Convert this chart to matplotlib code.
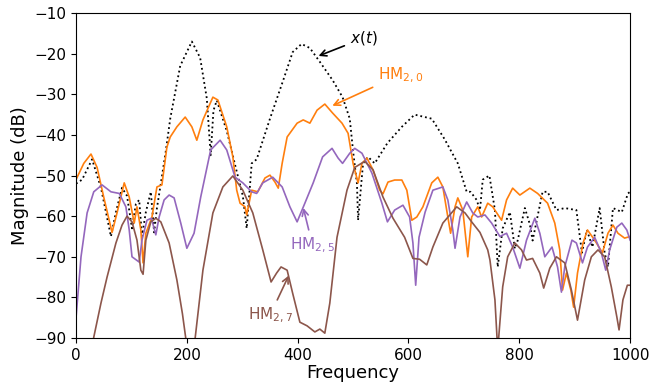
import numpy as np
import matplotlib
matplotlib.use("Agg")
import matplotlib.pyplot as plt

# x(t) spectrum (black dotted)
black_f = [0, 11, 29, 45, 54, 63, 72, 83, 92, 101, 108, 114, 119, 126, 135,
           141, 146, 153, 162, 170, 188, 209, 224, 236, 243, 248, 254, 272, 290, 301,
           308, 317, 326, 350, 374, 391, 407, 422, 440, 463, 481, 494, 500, 507, 509,
           518, 527, 539, 562, 588, 611, 642, 665, 689, 705, 712, 723, 729, 734, 746,
           756, 761, 770, 783, 792, 797, 810, 819, 824, 833, 842, 851, 867, 882, 903,
           913, 922, 932, 945, 954, 960, 969, 985, 996, 1000]
black_db = [-52, -51, -46, -53, -59, -65, -59, -53, -55, -63, -57, -56, -65, -59, -54,
            -64, -58, -52, -44, -36, -23, -17, -21, -31, -45, -34, -31.5, -39, -49, -55,
            -63, -47, -46, -36, -26.5, -19.6, -17.6, -18.6, -22, -26.5, -30.7, -36, -44, -52, -61,
            -47, -45.4, -47, -42, -38, -35, -36, -41, -47, -54, -54, -56, -58.5, -51, -50,
            -58.5, -72.5, -63, -59, -68, -66, -58, -62, -66, -60, -54, -54, -58.5, -58, -58.5,
            -69, -63.4, -67.6, -58, -69, -72.5, -58, -59, -54.4, -54]

# HM_{2,0}
orange_f = [0, 14, 27, 38, 50, 65, 74, 87, 96, 105, 110, 117, 121, 126, 137,
            146, 155, 164, 170, 182, 197, 209, 218, 229, 247, 256, 272, 283, 290, 296,
            305, 308, 317, 328, 341, 350, 359, 365, 372, 381, 399, 410, 422, 435, 449,
            463, 480, 491, 500, 509, 516, 525, 536, 548, 554, 563, 575, 588, 597, 606,
            615, 626, 642, 653, 662, 671, 676, 684, 689, 698, 707, 714, 725, 732, 743,
            752, 768, 777, 788, 801, 819, 833, 851, 864, 873, 878, 885, 893, 898, 905,
            915, 923, 936, 950, 960, 969, 978, 990, 1000]
orange_db = [-51, -47, -44.7, -48, -55.3, -64, -59.2, -51.8, -55.3, -61.7, -57.7, -63.4, -71.5, -64.2, -60.2,
             -52.8, -52.3, -43, -40.5, -38, -35.6, -38, -41.3, -36.3, -30.7, -31.4, -38, -45.4, -53.6, -56.8,
             -57.7, -59.7, -53.6, -54, -50.6, -49.9, -51.6, -53.1, -47, -40.5, -37.1, -36.3, -37.1, -33.9, -32.4,
             -34.6, -37.1, -39.6, -47, -51.8, -47, -45.7, -48.6, -53.6, -54.5, -51.6, -51.1, -51.1, -53.6, -61,
             -60.2, -57.7, -51.8, -50.4, -52.8, -60.2, -64.2, -57.7, -55.5, -58.5, -70, -60.2, -57.7, -60.2, -56.8,
             -57.7, -61, -56, -53.1, -54.8, -53.1, -54.4, -56.8, -61.7, -68.3, -78.2, -74, -78.2, -82.4, -74,
             -66.6, -63.4, -65.9, -69, -64.2, -62.2, -64.2, -65.4, -65]

# HM_{2,5}
purple_f = [0, 9, 20, 32, 47, 63, 78, 90, 96, 101, 114, 119, 128, 136, 144,
            150, 159, 168, 177, 189, 200, 213, 225, 243, 260, 272, 287, 301, 317, 326,
            337, 355, 372, 386, 399, 413, 428, 445, 462, 473, 481, 494, 503, 516, 534,
            552, 562, 575, 590, 602, 608, 613, 619, 630, 644, 662, 671, 680, 684, 693,
            705, 716, 725, 738, 750, 765, 777, 788, 801, 813, 828, 837, 846, 859, 869,
            876, 882, 895, 903, 914, 923, 936, 948, 956, 963, 976, 985, 994, 1000]
purple_db = [-85, -70, -59.2, -54, -52.3, -54, -54.4, -57.7, -63.4, -70, -71.3, -65.9, -61, -60.5, -64.6,
             -60.2, -56, -54.8, -55.5, -61.7, -67.9, -64.2, -55.3, -43.7, -41.3, -43.7, -50.4, -51.8, -54, -54.4,
             -51.8, -50.4, -52.8, -57.7, -61.4, -56.8, -51.8, -45.4, -43.3, -45.7, -47, -44.5, -43.3, -44.5, -49.4,
             -56.8, -61.4, -58.5, -57.3, -60.2, -66.6, -77, -65.2, -59, -53.6, -52.8, -56, -63.4, -67.9, -60.2,
             -56.5, -59.2, -60.2, -59.7, -61.7, -65, -64.2, -67.6, -72.8, -65.9, -60.5, -64.2, -70, -67.6, -72.5,
             -78.7, -72.5, -65.9, -66.6, -71.5, -67.6, -65.2, -69, -73.3, -68.3, -62.7, -61.7, -63.4, -65.9]

# HM_{2,7}
brown_f = [25, 32, 45, 56, 72, 83, 92, 101, 110, 117, 121, 126, 135, 144, 153,
           168, 182, 192, 198, 206, 215, 229, 247, 265, 283, 301, 319, 337, 352, 362,
           370, 381, 391, 404, 417, 431, 440, 449, 458, 471, 489, 503, 521, 536, 554,
           572, 593, 608, 620, 633, 644, 662, 687, 702, 714, 729, 743, 747, 756, 761,
           770, 779, 792, 804, 813, 824, 837, 844, 855, 867, 882, 894, 905, 918, 930,
           942, 954, 966, 976, 980, 987, 995, 1000]
brown_db = [-95, -89.8, -81.4, -75, -66.6, -62.2, -60, -61.4, -65.9, -73.3, -74.3, -65.9, -61.4, -60.5, -61.4,
            -66.6, -75.7, -84, -90, -96, -90, -73.3, -59.2, -52.8, -50.1, -53.6, -59.2, -68.3, -76.2, -74,
            -72.5, -73.3, -79, -86.1, -87, -88.5, -87.8, -88.8, -81.4, -65.2, -53.6, -48, -46.5, -48.6, -55.3,
            -60.5, -65.2, -70.4, -70.6, -72, -67.6, -61.7, -57.7, -59.2, -61.4, -64, -68.3, -70.8, -80.6, -93,
            -77.4, -70, -66.6, -68.3, -70.8, -70.4, -74, -77.7, -72.8, -70, -71.5, -78.2, -85.6, -75.7, -70,
            -68.3, -70, -77.4, -84.8, -88, -80.6, -77, -77]

fig = plt.figure(figsize=(6.64, 3.85), dpi=100)
ax = fig.add_axes([0.1145, 0.122, 0.8345, 0.844])

ax.plot(black_f, black_db, color="black", linestyle=":", lw=1.3)
ax.plot(orange_f, orange_db, color="tab:orange", lw=1.2)
ax.plot(purple_f, purple_db, color="tab:purple", lw=1.2)
ax.plot(brown_f, brown_db, color="tab:brown", lw=1.2)

ax.set_xlim(0, 1000)
ax.set_ylim(-90, -10)
ax.set_xticks(np.arange(0, 1001, 200))
ax.set_yticks(np.arange(-90, -9, 10))
ax.tick_params(labelsize=11)
ax.set_xlabel("Frequency", fontsize=13, labelpad=1)
ax.set_ylabel("Magnitude (dB)", fontsize=13)

ax.annotate(r"$x(t)$", xy=(433, -20.8), xytext=(494, -16.2), fontsize=11,
            color="black", va="center", ha="left",
            arrowprops=dict(arrowstyle="->", color="black", lw=1.2, relpos=(0, 0.2)))
ax.annotate(r"HM$_{2,0}$", xy=(458, -33.1), xytext=(545, -25.3), fontsize=11,
            color="tab:orange", va="center", ha="left",
            arrowprops=dict(arrowstyle="->", color="tab:orange", lw=1.2, relpos=(0, 0)))
ax.annotate(r"HM$_{2,5}$", xy=(409, -57.3), xytext=(386, -67.1), fontsize=11,
            color="tab:purple", va="center", ha="left",
            arrowprops=dict(arrowstyle="->", color="tab:purple", lw=1.2, relpos=(0.45, 1)))
ax.annotate(r"HM$_{2,7}$", xy=(386, -74), xytext=(310, -84.3), fontsize=11,
            color="tab:brown", va="center", ha="left",
            arrowprops=dict(arrowstyle="->", color="tab:brown", lw=1.2, relpos=(0.6, 1)))

fig.savefig("out.png", dpi=100)
